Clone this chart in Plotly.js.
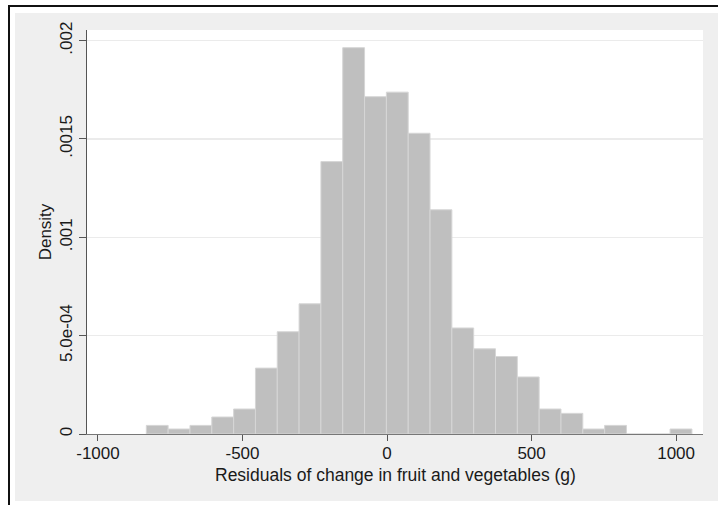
<!DOCTYPE html>
<html>
<head>
<meta charset="utf-8">
<script src="https://cdn.plot.ly/plotly-3.0.1.min.js"></script>
<style>
  html, body { margin: 0; padding: 0; background: #ffffff; width: 718px; height: 505px; overflow: hidden; }
  #frame { position: absolute; left: 8px; top: 5px; width: 800px; height: 600px;
           border-left: 2px solid #111; border-top: 2px solid #111; }
  #chart { position: absolute; left: 15px; top: 13px; width: 703px; height: 488px; }
</style>
</head>
<body>
<div id="frame"></div>
<div id="chart"></div>
<script>
// Histogram of residuals: 25 equal-width bins, heights are densities
const binStart = -832.8;
const binWidth = 75.5;
const density = [
  0.0000437, 0.0000254, 0.0000437, 0.0000864, 0.000127,
  0.000335,  0.00052,   0.000662,  0.001385,  0.001964,
  0.001715,  0.001738,  0.001529,  0.00114,   0.000539,
  0.000433,  0.000394,  0.00029,   0.000127,  0.000105,
  0.0000254, 0.0000437, 0,         0,         0.0000254
];
const xTickVals = [-1000, -500, 0, 500, 1000];
const xTickText = ['-1000', '-500', '0', '500', '1000'];
const yTickVals = [0, 0.0005, 0.001, 0.0015, 0.002];
const yTickText = ['0', '5.0e-04', '.001', '.0015', '.002'];
const xTitle = 'Residuals of change in fruit and vegetables (g)';
const yTitle = 'Density';

const binLeft = density.map((_, i) => binStart + i * binWidth);

const font = 'Liberation Sans, Arial, sans-serif';
const ink = '#1a1a1a';

const trace = {
  type: 'bar',
  x: binLeft,
  y: density,
  width: binWidth,
  offset: 0,
  marker: { color: '#bfbfbf', line: { color: '#d6d6d6', width: 1 } },
  hoverinfo: 'x+y'
};

const layout = {
  width: 703,
  height: 488,
  margin: { l: 72, r: 15, t: 17, b: 67 },
  paper_bgcolor: '#efefef',
  plot_bgcolor: '#ffffff',
  showlegend: false,
  font: { family: font, size: 17, color: ink },
  xaxis: {
    range: [-1038, 1093],
    tickmode: 'array',
    tickvals: xTickVals,
    ticktext: xTickText,
    ticks: 'outside',
    ticklen: 6,
    ticklabelstandoff: -2,
    tickcolor: '#555',
    tickwidth: 1,
    showgrid: false,
    zeroline: false,
    showline: true,
    linecolor: '#777',
    linewidth: 1,
    tickfont: { family: font, size: 17, color: ink }
  },
  yaxis: {
    range: [0, 0.002054],
    tickmode: 'array',
    tickvals: yTickVals,
    ticktext: yTickText,
    tickangle: -90,
    ticks: 'outside',
    ticklen: 7,
    tickcolor: '#555',
    tickwidth: 1,
    showgrid: true,
    gridcolor: '#ebebeb',
    gridwidth: 1.5,
    zeroline: false,
    showline: true,
    linecolor: '#555',
    linewidth: 1,
    tickfont: { family: font, size: 17, color: ink },
    title: { text: yTitle, font: { family: font, size: 17, color: ink }, standoff: 1 }
  },
  // x-axis title sits tight under the tick labels, so it is placed as an annotation
  annotations: [{
    text: xTitle,
    xref: 'paper', yref: 'paper',
    x: 0.5, y: 0,
    xanchor: 'center', yanchor: 'middle',
    yshift: -41,
    showarrow: false,
    font: { family: font, size: 17.5, color: ink }
  }]
};

Plotly.newPlot('chart', [trace], layout, { displayModeBar: false, staticPlot: true });
</script>
</body>
</html>
